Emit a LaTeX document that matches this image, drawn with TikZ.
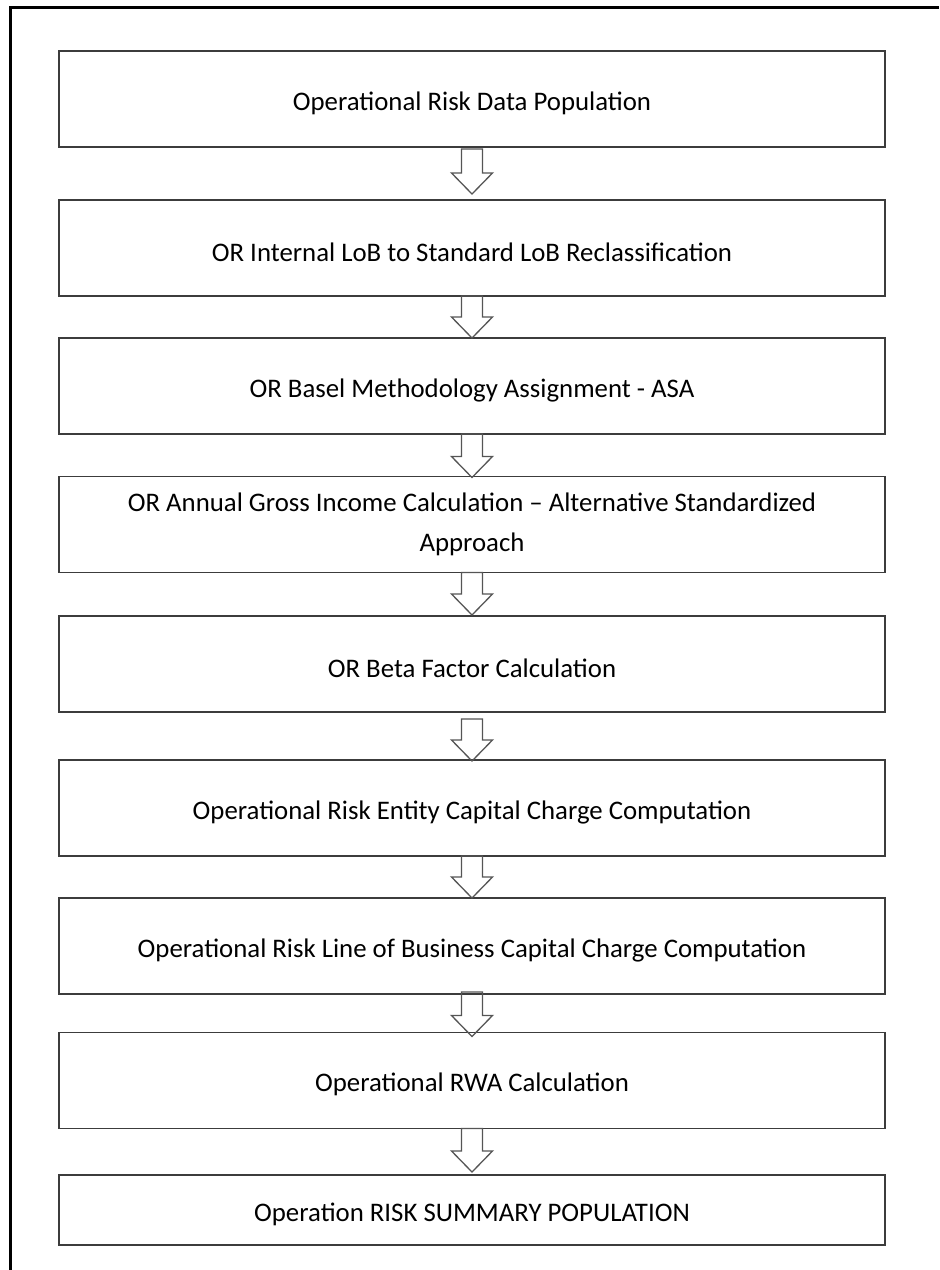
\documentclass[tikz,border=0pt]{standalone}
\usepackage{fontspec}
\setmainfont{Carlito}
\usetikzlibrary{calc}

\definecolor{boxgray}{HTML}{3C3C3C}
\definecolor{arrowgray}{HTML}{555555}

\begin{document}
\begin{tikzpicture}[x=0.5pt, y=-0.5pt, process node/.style={rectangle, draw=boxgray, line width=0.8pt, minimum width=413pt, minimum height=48pt, inner sep=0pt, outer sep=0pt, align=center, font=\fontsize{13.4}{20}\selectfont, execute at begin node={\rule{0pt}{13.5pt}}}, flow arrow/.style 2 args={draw=arrowgray, line width=0.65pt, to path={($(\tikztostart.south)+(-10.5,#1)$) -- ($(\tikztostart.south)+(10.5,#1)$) -- ($(\tikztotarget.north)+(10.5,#2)+(0,-21)$) -- ($(\tikztotarget.north)+(20.5,#2)+(0,-21)$) -- ($(\tikztotarget.north)+(0,#2)$) -- ($(\tikztotarget.north)+(-20.5,#2)+(0,-21)$) -- ($(\tikztotarget.north)+(-10.5,#2)+(0,-21)$) -- cycle}}]
\useasboundingbox (0,0) rectangle (939,1270);

% frame
\draw[line width=1.5pt] (10,1270) -- (10,7) -- (939,7);

% steps
\node[process node] (b1) at (472,99) {Operational Risk Data Population};

\node[process node] (b2) at (472,248) {OR Internal LoB to Standard LoB Reclassification};

\node[process node] (b3) at (472,386) {OR Basel Methodology Assignment - ASA};

% two lines
\node[process node, execute at begin node={\rule{0pt}{17.5pt}}] (b4) at (472,524.5) {OR Annual Gross Income Calculation -- Alternative Standardized\\Approach};

\node[process node] (b5) at (472,664) {OR Beta Factor Calculation};

\node[process node] (b6) at (472,808) {Operational Risk Entity Capital Charge Computation};

\node[process node] (b7) at (472,946) {Operational Risk Line of Business Capital Charge Computation};

\node[process node] (b8) at (472,1080.5) {Operational RWA Calculation};

% last step
\node[process node, minimum height=35pt] (b9) at (472,1210) {Operation RISK SUMMARY POPULATION};

\path[]
% step -> step
(b1) edge[flow arrow={2}{-6}] (b2)
(b2) edge[flow arrow={0}{0}] (b3)
(b3) edge[flow arrow={0}{1}] (b4)
(b4) edge[flow arrow={0}{-1}] (b5)
(b5) edge[flow arrow={7}{1}] (b6)
(b6) edge[flow arrow={0}{0}] (b7)
(b7) edge[flow arrow={-2}{4}] (b8)
(b8) edge[flow arrow={0}{-3}] (b9)
;

\end{tikzpicture}
\end{document}
